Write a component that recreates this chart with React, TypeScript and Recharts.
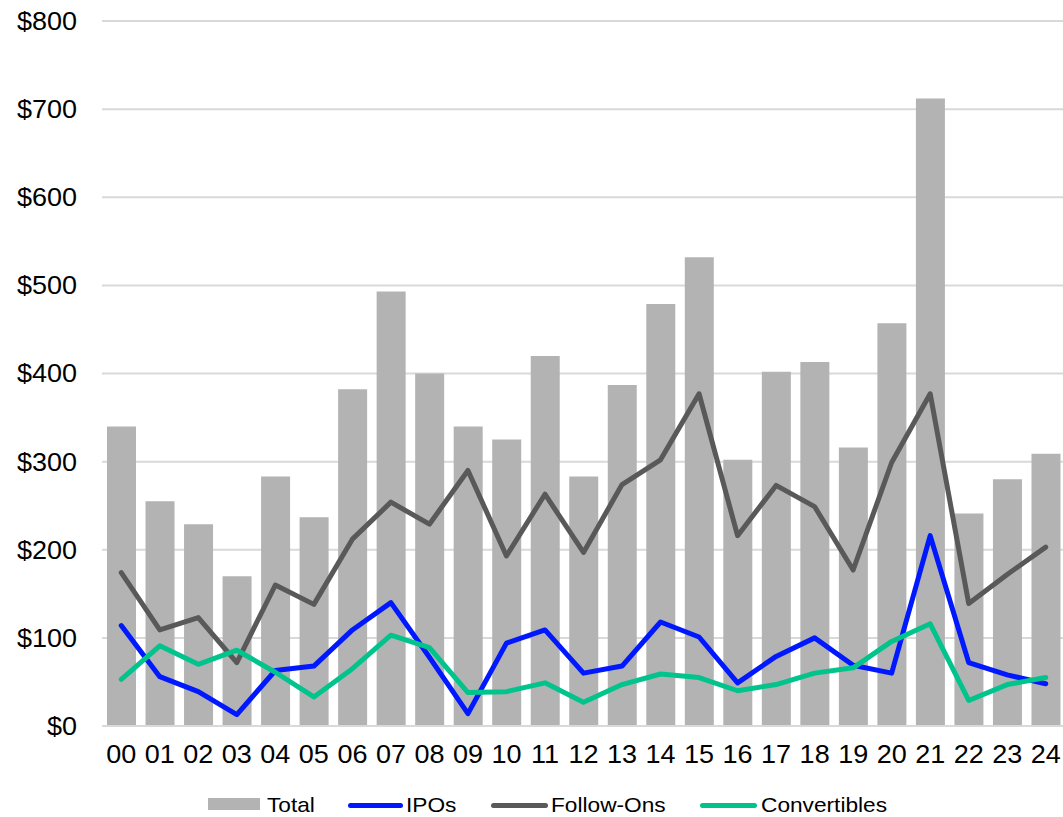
import React from "react";
import {
  ComposedChart,
  Bar,
  Line,
  XAxis,
  YAxis,
  CartesianGrid,
  Legend,
} from "recharts";

// Issuance by year ($ billions)
const years = [
  "00", "01", "02", "03", "04", "05", "06", "07", "08", "09", "10", "11", "12",
  "13", "14", "15", "16", "17", "18", "19", "20", "21", "22", "23", "24",
];
const total = [
  340, 255, 229, 170, 283, 237, 382, 493, 400, 340, 325, 420, 283, 387, 479,
  532, 302, 402, 413, 316, 457, 712, 241, 280, 309,
];
const ipos = [
  114, 56, 39, 13, 63, 68, 109, 140, 78, 14, 94, 109, 60, 68, 118, 101, 49, 79,
  100, 69, 60, 216, 72, 58, 48,
];
const followOns = [
  174, 109, 123, 72, 160, 138, 212, 254, 229, 290, 193, 263, 197, 274, 302,
  377, 216, 273, 249, 177, 299, 377, 139, 172, 203,
];
const convertibles = [
  53, 91, 70, 86, 61, 33, 65, 103, 89, 38, 39, 49, 27, 47, 59, 55, 40, 47, 60,
  66, 96, 116, 29, 47, 55,
];
const yTicks = [0, 100, 200, 300, 400, 500, 600, 700, 800];

const data = years.map((year, i) => ({
  year,
  total: total[i],
  ipos: ipos[i],
  followOns: followOns[i],
  convertibles: convertibles[i],
}));

const FONT = "'Liberation Sans', Arial, sans-serif";
const STRETCH = 1.08;

const C_TOTAL = "#b3b3b3";
const C_IPO = "#0018ff";
const C_FO = "#595959";
const C_CONV = "#00c48c";
const C_GRID = "#d9d9d9";

const YTick = (props: any) => {
  const { x, y, payload } = props;
  return (
    <g transform={`translate(${x},${y})`}>
      <text
        transform={`scale(${STRETCH},1)`}
        textAnchor="end"
        dy="0.355em"
        fontFamily={FONT}
        fontSize={25}
        fill="#000"
      >
        {`$${payload.value}`}
      </text>
    </g>
  );
};

const XTick = (props: any) => {
  const { x, y, payload } = props;
  return (
    <g transform={`translate(${x},${y})`}>
      <text
        transform={`scale(${STRETCH},1)`}
        textAnchor="middle"
        dy="0.71em"
        fontFamily={FONT}
        fontSize={25}
        fill="#000"
      >
        {payload.value}
      </text>
    </g>
  );
};

const legendItems = [
  { label: "Total", color: C_TOTAL, kind: "rect", left: 208, width: 52, textLeft: 267 },
  { label: "IPOs", color: C_IPO, kind: "line", left: 348, width: 55, textLeft: 406 },
  { label: "Follow-Ons", color: C_FO, kind: "line", left: 491, width: 57, textLeft: 551 },
  { label: "Convertibles", color: C_CONV, kind: "line", left: 700, width: 57, textLeft: 761 },
];

const LegendContent = () => (
  <div style={{ position: "relative", width: 1063, height: 24 }}>
    {legendItems.map((it) => (
      <React.Fragment key={it.label}>
        <div
          style={{
            position: "absolute",
            left: it.left,
            top: it.kind === "rect" ? 5 : 9.5,
            width: it.width,
            height: it.kind === "rect" ? 12 : 5,
            borderRadius: it.kind === "rect" ? 0 : 2.5,
            background: it.color,
          }}
        />
        <div
          style={{
            position: "absolute",
            left: it.textLeft,
            top: 0,
            height: 24,
            lineHeight: "24px",
            fontFamily: FONT,
            fontSize: 21,
            color: "#000",
            whiteSpace: "nowrap",
            transform: `scaleX(${STRETCH})`,
            transformOrigin: "left center",
          }}
        >
          {it.label}
        </div>
      </React.Fragment>
    ))}
  </div>
);

export default function App() {
  return (
    <div
      style={{
        position: "absolute",
        left: 0,
        top: 0,
        width: 1063,
        height: 817,
        overflow: "hidden",
        background: "#fff",
      }}
    >
      <ComposedChart
        width={1070}
        height={817}
        data={data}
        margin={{ top: 21, right: 5, bottom: 0, left: 0 }}
      >
        <CartesianGrid vertical={false} stroke={C_GRID} strokeWidth={2} />
        <XAxis
          dataKey="year"
          axisLine={{ stroke: C_GRID, strokeWidth: 2 }}
          tickLine={false}
          tickMargin={13}
          height={67}
          interval={0}
          tick={<XTick />}
        />
        <YAxis
          domain={[0, 800]}
          ticks={yTicks}
          axisLine={false}
          tickLine={false}
          tickMargin={19}
          width={102}
          tick={<YTick />}
        />
        <Legend
          verticalAlign="bottom"
          wrapperStyle={{ left: 0, bottom: 0, width: 1063, height: 24 }}
          content={<LegendContent />}
        />
        <Bar dataKey="total" name="Total" fill={C_TOTAL} barSize={29} isAnimationActive={false} />
        <Line
          type="linear"
          dataKey="ipos"
          name="IPOs"
          stroke={C_IPO}
          strokeWidth={5}
          dot={false}
          strokeLinejoin="round"
          strokeLinecap="round"
          isAnimationActive={false}
        />
        <Line
          type="linear"
          dataKey="followOns"
          name="Follow-Ons"
          stroke={C_FO}
          strokeWidth={5}
          dot={false}
          strokeLinejoin="round"
          strokeLinecap="round"
          isAnimationActive={false}
        />
        <Line
          type="linear"
          dataKey="convertibles"
          name="Convertibles"
          stroke={C_CONV}
          strokeWidth={5}
          dot={false}
          strokeLinejoin="round"
          strokeLinecap="round"
          isAnimationActive={false}
        />
      </ComposedChart>
    </div>
  );
}
